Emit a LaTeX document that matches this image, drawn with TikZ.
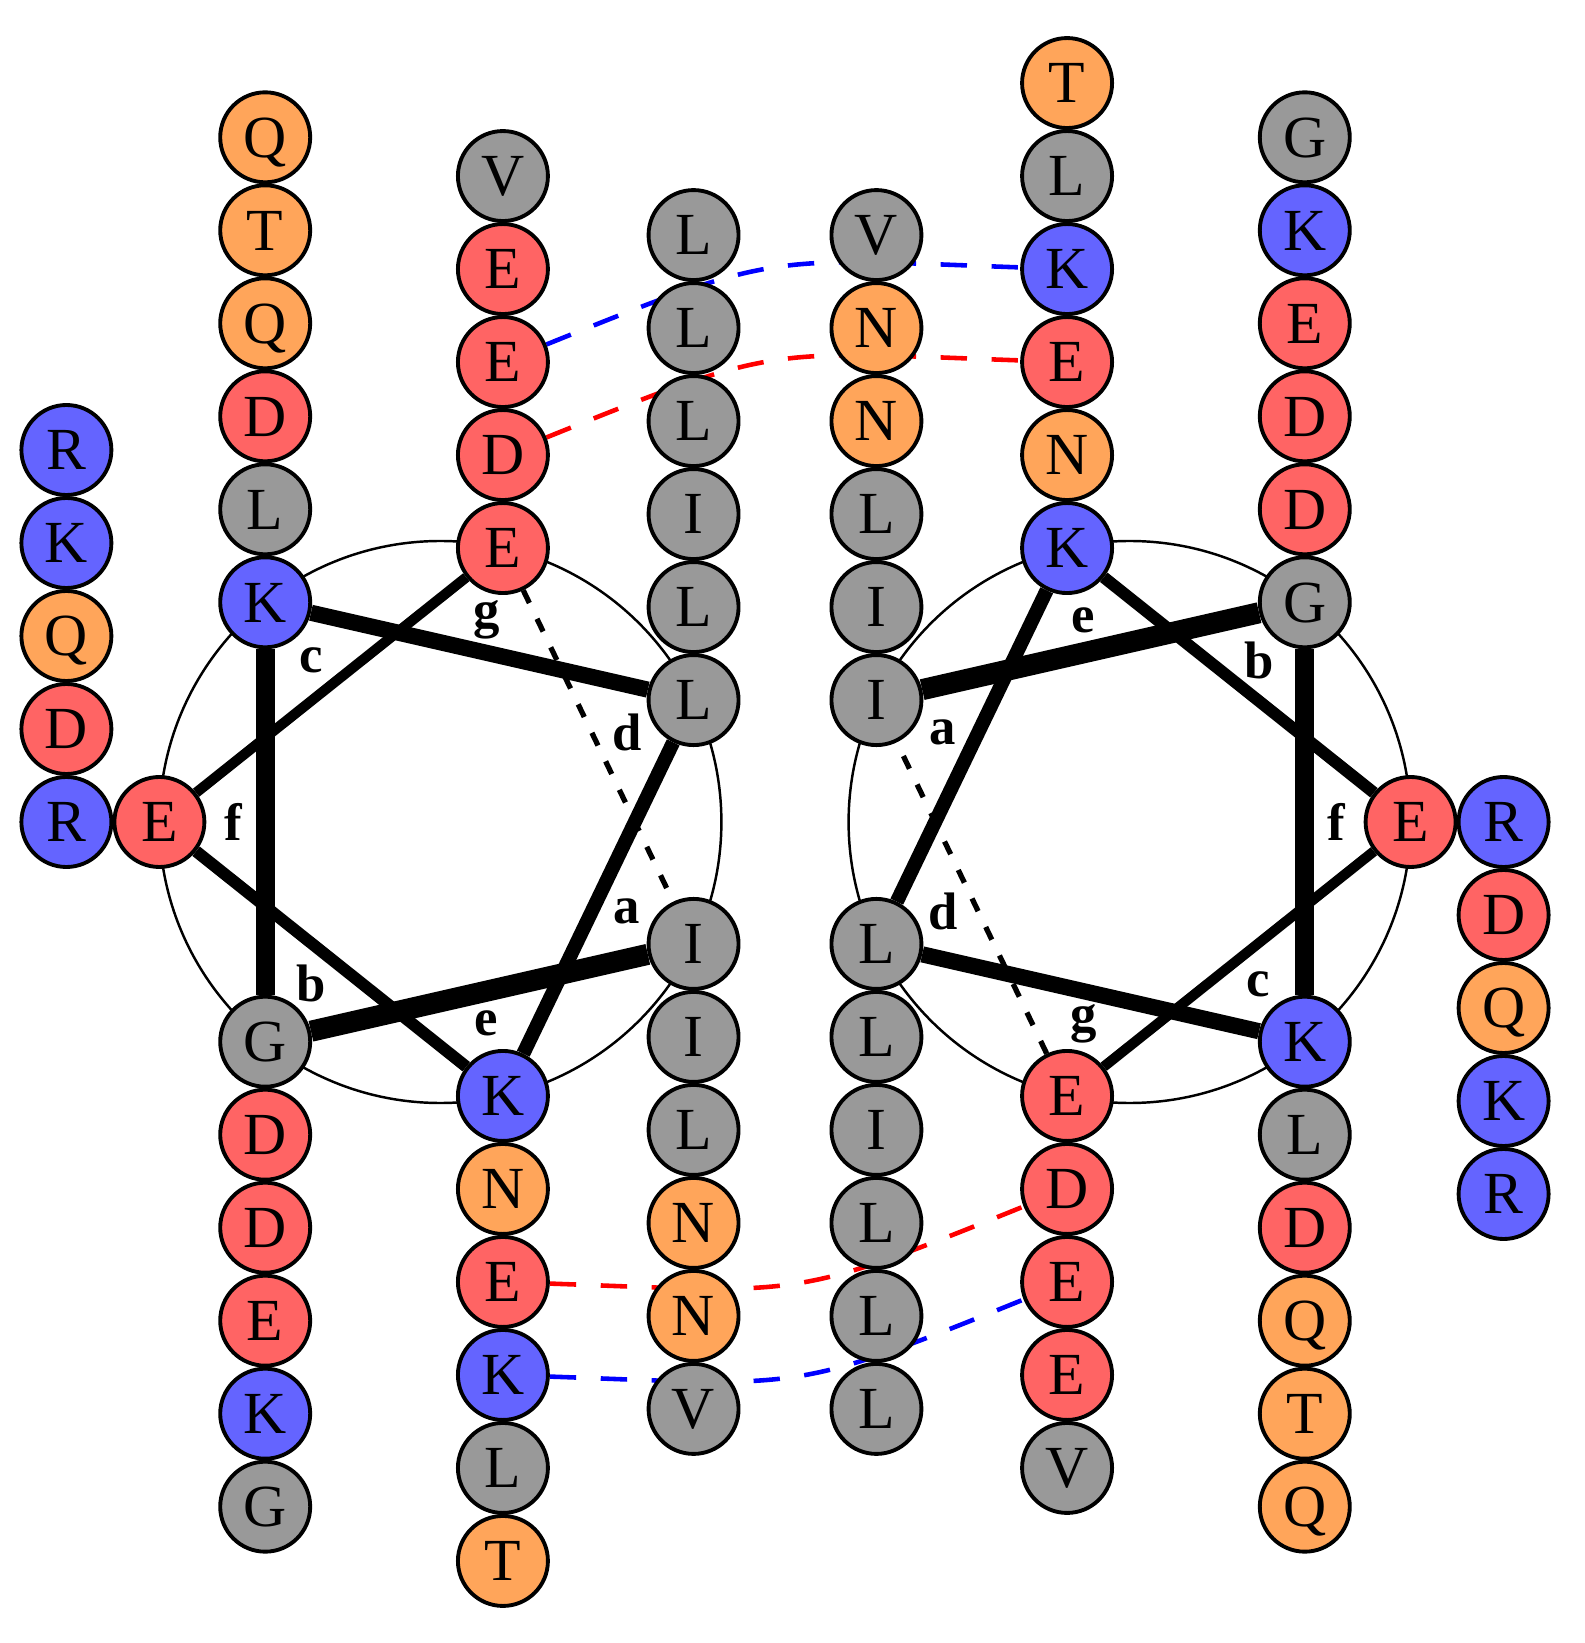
\documentclass[tikz,border=0pt]{standalone}
\usepackage{fontspec}
\setmainfont{Liberation Serif}
\usepackage{tikz}
\usetikzlibrary{calc, backgrounds}
\definecolor{hxred}{HTML}{FF6464}
\definecolor{hxblue}{HTML}{6464FF}
\definecolor{hxorange}{HTML}{FFA55A}
\definecolor{hxgray}{HTML}{999999}
\colorlet{resK}{hxblue}\colorlet{resR}{hxblue}
\colorlet{resD}{hxred}\colorlet{resE}{hxred}
\colorlet{resN}{hxorange}\colorlet{resQ}{hxorange}\colorlet{resT}{hxorange}
\colorlet{resG}{hxgray}\colorlet{resI}{hxgray}\colorlet{resL}{hxgray}\colorlet{resV}{hxgray}

\begin{document}
\begin{tikzpicture}[
  aa/.style={circle, draw=black, line width=1.1pt, fill=res#1, minimum size=0.9cm,
    inner sep=0pt, font=\fontsize{17}{17}\selectfont, text height=11.3pt, text depth=0pt},
  hept/.style={inner sep=0pt, font=\fontsize{15}{15}\selectfont\bfseries},
  wheel/.style={line width=0.7pt},
  salt/.style={line width=1.3pt, dash pattern=on 7.5pt off 7pt, looseness=1.35},
]
  \useasboundingbox (-7.85,-8.21) rectangle (7.99,8.22);
  \coordinate (Lw) at (-3.446,0);
  \coordinate (Rw) at (3.446,0);

  % left helix
  \node[aa=I] (La) at ($(Lw)+(-25.714:2.81)$) {I};
  \node[aa=G] (Lb) at ($(Lw)+(-128.571:2.81)$) {G};
  \node[aa=K] (Lc) at ($(Lw)+(128.571:2.81)$) {K};
  \node[aa=L] (Ld) at ($(Lw)+(25.714:2.81)$) {L};
  \node[aa=K] (Le) at ($(Lw)+(-77.143:2.81)$) {K};
  \node[aa=E] (Lf) at ($(Lw)+(180:2.81)$) {E};
  \node[aa=E] (Lg) at ($(Lw)+(77.143:2.81)$) {E};
  \node[hept] (Lla) at ($(Lw)+(-25.714:2.07)$) {a};
  \node[hept] (Llb) at ($(Lw)+(-128.571:2.07)$) {b};
  \node[hept] (Llc) at ($(Lw)+(128.571:2.07)$) {c};
  \node[hept] (Lld) at ($(Lw)+(25.714:2.07)$) {d};
  \node[hept] (Lle) at ($(Lw)+(-77.143:2.07)$) {e};
  \node[hept] (Llf) at ($(Lw)+(180:2.07)$) {f};
  \node[hept] (Llg) at ($(Lw)+(77.143:2.07)$) {g};
  \foreach \r [count=\i] in {I,L,N,N,V}
    \node[aa=\r] (La\i) at ($(La)+(0,-0.93*\i)$) {\r};
  \foreach \r [count=\i] in {D,D,E,K,G}
    \node[aa=\r] (Lb\i) at ($(Lb)+(0,-0.93*\i)$) {\r};
  \foreach \r [count=\i] in {L,D,Q,T,Q}
    \node[aa=\r] (Lc\i) at ($(Lc)+(0,0.93*\i)$) {\r};
  \foreach \r [count=\i] in {L,I,L,L,L}
    \node[aa=\r] (Ld\i) at ($(Ld)+(0,0.93*\i)$) {\r};
  \foreach \r [count=\i] in {N,E,K,L,T}
    \node[aa=\r] (Le\i) at ($(Le)+(0,-0.93*\i)$) {\r};
  \foreach \r [count=\i] in {R,D,Q,K,R}
    \node[aa=\r] (Lf\i) at ($(Lf)+(-0.93,0.93*\i-0.93)$) {\r};
  \foreach \r [count=\i] in {D,E,E,V}
    \node[aa=\r] (Lg\i) at ($(Lg)+(0,0.93*\i)$) {\r};

  % right helix
  \node[aa=I] (Ra) at ($(Rw)+(154.286:2.81)$) {I};
  \node[aa=G] (Rb) at ($(Rw)+(51.429:2.81)$) {G};
  \node[aa=K] (Rc) at ($(Rw)+(-51.429:2.81)$) {K};
  \node[aa=L] (Rd) at ($(Rw)+(-154.286:2.81)$) {L};
  \node[aa=K] (Re) at ($(Rw)+(102.857:2.81)$) {K};
  \node[aa=E] (Rf) at ($(Rw)+(0:2.81)$) {E};
  \node[aa=E] (Rg) at ($(Rw)+(-102.857:2.81)$) {E};
  \node[hept] (Rla) at ($(Rw)+(154.286:2.07)$) {a};
  \node[hept] (Rlb) at ($(Rw)+(51.429:2.07)$) {b};
  \node[hept] (Rlc) at ($(Rw)+(-51.429:2.07)$) {c};
  \node[hept] (Rld) at ($(Rw)+(-154.286:2.07)$) {d};
  \node[hept] (Rle) at ($(Rw)+(102.857:2.07)$) {e};
  \node[hept] (Rlf) at ($(Rw)+(0:2.07)$) {f};
  \node[hept] (Rlg) at ($(Rw)+(-102.857:2.07)$) {g};
  \foreach \r [count=\i] in {I,L,N,N,V}
    \node[aa=\r] (Ra\i) at ($(Ra)+(0,0.93*\i)$) {\r};
  \foreach \r [count=\i] in {D,D,E,K,G}
    \node[aa=\r] (Rb\i) at ($(Rb)+(0,0.93*\i)$) {\r};
  \foreach \r [count=\i] in {L,D,Q,T,Q}
    \node[aa=\r] (Rc\i) at ($(Rc)+(0,-0.93*\i)$) {\r};
  \foreach \r [count=\i] in {L,I,L,L,L}
    \node[aa=\r] (Rd\i) at ($(Rd)+(0,-0.93*\i)$) {\r};
  \foreach \r [count=\i] in {N,E,K,L,T}
    \node[aa=\r] (Re\i) at ($(Re)+(0,0.93*\i)$) {\r};
  \foreach \r [count=\i] in {R,D,Q,K,R}
    \node[aa=\r] (Rf\i) at ($(Rf)+(0.93,0.93-0.93*\i)$) {\r};
  \foreach \r [count=\i] in {D,E,E,V}
    \node[aa=\r] (Rg\i) at ($(Rg)+(0,-0.93*\i)$) {\r};

  \begin{scope}[on background layer]
    \draw[wheel] (Lw) circle (2.81);
    \draw[wheel] (Rw) circle (2.81);
    \foreach \h in {L,R} {
      \draw[line width=6pt] (\h a) -- (\h b);
      \draw[line width=5.3pt] (\h b) -- (\h c);
      \draw[line width=4.6pt] (\h c) -- (\h d);
      \draw[line width=4pt] (\h d) -- (\h e);
      \draw[line width=3.4pt] (\h e) -- (\h f);
      \draw[line width=2.9pt] (\h f) -- (\h g);
      \draw[line width=1.5pt, dash pattern=on 4pt off 5pt] (\h g) -- (\h a);
    }
    \draw[salt, blue] (Lg2) to[out=22, in=178] (Re3);
    \draw[salt, red] (Lg1) to[out=22, in=178] (Re2);
    \draw[salt, red] (Le2) to[out=-2, in=202] (Rg1);
    \draw[salt, blue] (Le3) to[out=-2, in=202] (Rg2);
  \end{scope}
\end{tikzpicture}
\end{document}
